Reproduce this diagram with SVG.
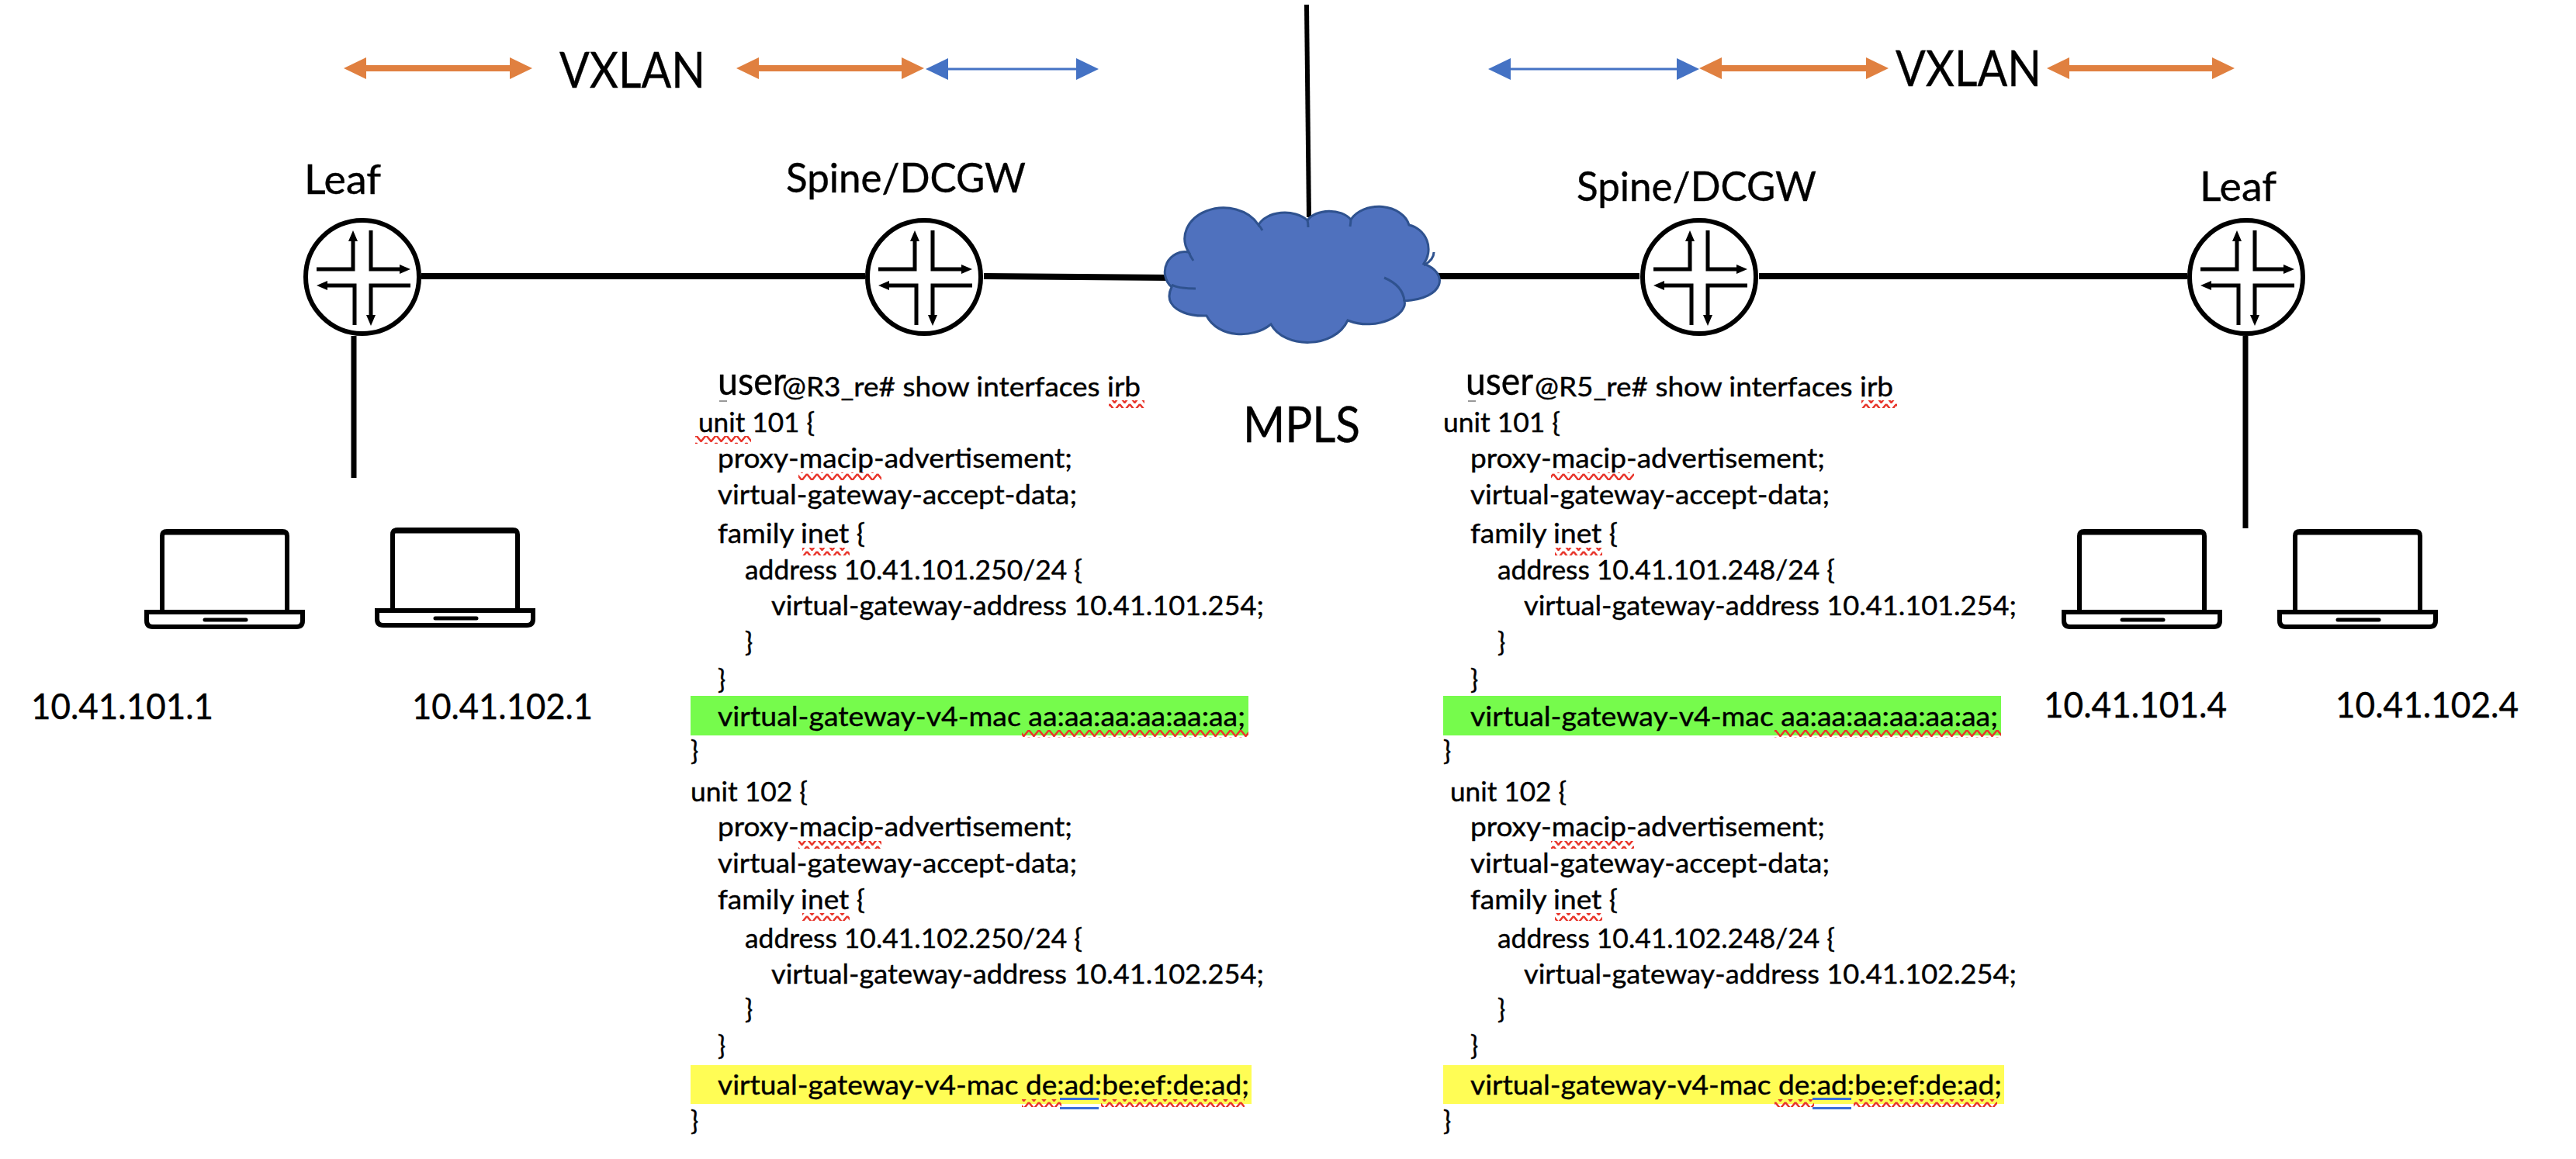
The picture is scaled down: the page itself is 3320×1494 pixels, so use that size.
<svg xmlns="http://www.w3.org/2000/svg" width="3320" height="1494" viewBox="0 0 3320 1494">
<style>
text{font-family:Lato,"Liberation Sans",sans-serif;fill:#000;font-size:34px;stroke:#000;stroke-width:.4}
.lab{font-size:52px}
.big{font-size:64px}
.ip{font-size:46px}
.usr{font-size:50px}
.link{stroke:#000;fill:none;stroke-width:8}
.drop{stroke:#000;fill:none;stroke-width:7}
.orange{stroke:#E08040;stroke-width:8;fill:none}
.blue{stroke:#4472C4;stroke-width:3;fill:none}
.dbl{fill:#3B6FD8}
.mark{fill:#999}
</style>
<defs>
<marker id="hO" markerUnits="userSpaceOnUse" markerWidth="29" markerHeight="28" refX="0" refY="14" orient="auto-start-reverse"><path d="M0,0L29,14L0,28Z" fill="#E08040"/></marker>
<marker id="hB" markerUnits="userSpaceOnUse" markerWidth="29" markerHeight="28" refX="0" refY="14" orient="auto-start-reverse"><path d="M0,0L29,14L0,28Z" fill="#4472C4"/></marker>
<pattern id="sq" patternUnits="userSpaceOnUse" width="13" height="10"><path d="M0,1L6.5,9L13,1" fill="none" stroke="#E8352B" stroke-width="2.5"/></pattern>
<g id="router">
<circle r="73" fill="#fff" stroke="#000" stroke-width="6"/>
<path d="M-59,-10H-12V-48M11,-60V-10H50M-48,11H-10V62M62,11H11V50" fill="none" stroke="#000" stroke-width="5"/>
<path d="M-12,-60L-18,-46H-6ZM62,-10L48,-16V-4ZM-59,11L-45,5V17ZM11,63L5,49H17Z" fill="#000"/>
</g>
<g id="laptop">
<path d="M3,105V9Q3,3 9,3H158Q164,3 164,9V105" fill="#fff" stroke="#000" stroke-width="6"/>
<path d="M2,5H165" stroke="#000" stroke-width="5" fill="none"/>
<path d="M-17,107H184V118Q184,126 176,126H-9Q-17,126 -17,118Z" fill="#fff" stroke="#000" stroke-width="6"/>
<path d="M58,117H111" stroke="#000" stroke-width="5" stroke-linecap="round" fill="none"/>
</g>
</defs>

<g id="connectors">
<path class="link" d="M543,356H1115"/>
<path class="link" d="M1268,356L1510,358"/>
<path class="link" d="M1850,356H2113"/>
<path class="link" d="M2267,356H2819"/>
<path class="drop" d="M456,433V616"/>
<path class="drop" d="M2894,433V681"/>
<path d="M1684,6L1687,280" stroke="#000" stroke-width="6" fill="none"/>
<path class="orange" d="M472,88H657" marker-start="url(#hO)" marker-end="url(#hO)"/>
<path class="orange" d="M978,88H1162" marker-start="url(#hO)" marker-end="url(#hO)"/>
<path class="blue" d="M1222,89H1387" marker-start="url(#hB)" marker-end="url(#hB)"/>
<path class="blue" d="M1947,89H2161" marker-start="url(#hB)" marker-end="url(#hB)"/>
<path class="orange" d="M2219,88H2405" marker-start="url(#hO)" marker-end="url(#hO)"/>
<path class="orange" d="M2667,88H2851" marker-start="url(#hO)" marker-end="url(#hO)"/>
</g>

<g id="vxlan-left"><text class="big" x="721" y="113" textLength="188" lengthAdjust="spacingAndGlyphs">VXLAN</text></g>
<g id="vxlan-right"><text class="big" x="2443" y="111" textLength="188" lengthAdjust="spacingAndGlyphs">VXLAN</text></g>

<g id="cloud-mpls">
<path d="M1510,370A26,26 0 0 1 1532,325A48,38 0 0 1 1622,290A36,24 0 0 1 1685,284A32,22 0 0 1 1741,283A40,30 0 0 1 1816,290A32,32 0 0 1 1835,340C1868,352 1862,385 1810,388C1815,405 1775,428 1737,413C1720,450 1655,450 1638,418C1615,437 1570,436 1555,407C1525,408 1498,395 1510,370Z" fill="#4F71BE" stroke="#2F528F" stroke-width="3"/>
<path d="M1784,358Q1808,368 1810,388M1848,325Q1848,335 1835,342M1510,367Q1518,372 1541,372M1532,325Q1534,330 1538,336M1622,290Q1625,293 1627,297M1685,284Q1686,288 1686,293M1741,283Q1741,286 1740,292" fill="none" stroke="#2F528F" stroke-width="3"/>
<text class="big" x="1602" y="570" textLength="151" lengthAdjust="spacingAndGlyphs">MPLS</text>
</g>

<g id="leaf-left">
<use href="#router" x="467" y="357"/>
<text class="lab" x="392" y="250" textLength="99" lengthAdjust="spacingAndGlyphs">Leaf</text>
</g>
<g id="spine-left">
<use href="#router" x="1191" y="357"/>
<text class="lab" x="1013" y="248" textLength="309" lengthAdjust="spacingAndGlyphs">Spine/DCGW</text>
</g>
<g id="spine-right">
<use href="#router" x="2190" y="357"/>
<text class="lab" x="2032" y="259" textLength="309" lengthAdjust="spacingAndGlyphs">Spine/DCGW</text>
</g>
<g id="leaf-right">
<use href="#router" x="2895" y="357"/>
<text class="lab" x="2835" y="259" textLength="99" lengthAdjust="spacingAndGlyphs">Leaf</text>
</g>

<g id="host-101-1">
<use href="#laptop" x="206" y="682"/>
<text class="ip" x="40" y="927" textLength="235" lengthAdjust="spacingAndGlyphs">10.41.101.1</text>
</g>
<g id="host-102-1">
<use href="#laptop" x="503" y="680"/>
<text class="ip" x="531" y="927" textLength="233" lengthAdjust="spacingAndGlyphs">10.41.102.1</text>
</g>
<g id="host-101-4">
<use href="#laptop" x="2677" y="682"/>
<text class="ip" x="2634" y="925" textLength="236" lengthAdjust="spacingAndGlyphs">10.41.101.4</text>
</g>
<g id="host-102-4">
<use href="#laptop" x="2955" y="682"/>
<text class="ip" x="3010" y="925" textLength="236" lengthAdjust="spacingAndGlyphs">10.41.102.4</text>
</g>

<g id="config-r3">
<rect x="890" y="897" width="719" height="51" fill="#76FB4C"/>
<rect x="890" y="1373" width="723" height="50" fill="#FFFD55"/>
<text class="usr" x="925" y="509" textLength="88" lengthAdjust="spacingAndGlyphs">user</text>
<text x="1008" y="511" textLength="462" lengthAdjust="spacingAndGlyphs">@R3_re# show interfaces irb</text>
<text x="900" y="557" textLength="150" lengthAdjust="spacingAndGlyphs">unit 101 {</text>
<text x="925" y="603" textLength="457" lengthAdjust="spacingAndGlyphs">proxy-macip-advertisement;</text>
<text x="925" y="650" textLength="463" lengthAdjust="spacingAndGlyphs">virtual-gateway-accept-data;</text>
<text x="925" y="700" textLength="190" lengthAdjust="spacingAndGlyphs">family inet {</text>
<text x="960" y="747" textLength="435" lengthAdjust="spacingAndGlyphs">address 10.41.101.250/24 {</text>
<text x="994" y="793" textLength="635" lengthAdjust="spacingAndGlyphs">virtual-gateway-address 10.41.101.254;</text>
<text x="960" y="840">}</text>
<text x="925" y="888">}</text>
<text x="925" y="936" textLength="680" lengthAdjust="spacingAndGlyphs">virtual-gateway-v4-mac aa:aa:aa:aa:aa:aa;</text>
<text x="890" y="980">}</text>
<text x="890" y="1033" textLength="151" lengthAdjust="spacingAndGlyphs">unit 102 {</text>
<text x="925" y="1078" textLength="457" lengthAdjust="spacingAndGlyphs">proxy-macip-advertisement;</text>
<text x="925" y="1125" textLength="463" lengthAdjust="spacingAndGlyphs">virtual-gateway-accept-data;</text>
<text x="925" y="1172" textLength="190" lengthAdjust="spacingAndGlyphs">family inet {</text>
<text x="960" y="1222" textLength="435" lengthAdjust="spacingAndGlyphs">address 10.41.102.250/24 {</text>
<text x="994" y="1268" textLength="635" lengthAdjust="spacingAndGlyphs">virtual-gateway-address 10.41.102.254;</text>
<text x="960" y="1313">}</text>
<text x="925" y="1360">}</text>
<text x="925" y="1411" textLength="685" lengthAdjust="spacingAndGlyphs">virtual-gateway-v4-mac de:ad:be:ef:de:ad;</text>
<text x="890" y="1457">}</text>
<rect class="mark" x="927" y="516" width="10" height="2"/>
<rect x="1429" y="516" width="46" height="10" fill="url(#sq)"/>
<rect x="896" y="562" width="72" height="10" fill="url(#sq)"/>
<rect x="1029" y="609" width="107" height="10" fill="url(#sq)"/>
<rect x="1034" y="706" width="61" height="10" fill="url(#sq)"/>
<rect x="1317" y="941" width="292" height="10" fill="url(#sq)"/>
<rect x="1029" y="1084" width="107" height="10" fill="url(#sq)"/>
<rect x="1034" y="1177" width="61" height="10" fill="url(#sq)"/>
<rect x="1317" y="1417" width="51" height="10" fill="url(#sq)"/>
<rect x="1419" y="1417" width="185" height="10" fill="url(#sq)"/>
<rect class="dbl" x="1366" y="1415" width="50" height="3"/>
<rect class="dbl" x="1366" y="1427" width="50" height="3"/>
</g>

<g id="config-r5">
<rect x="1860" y="897" width="719" height="51" fill="#76FB4C"/>
<rect x="1860" y="1373" width="723" height="50" fill="#FFFD55"/>
<text class="usr" x="1889" y="509" textLength="87" lengthAdjust="spacingAndGlyphs">user</text>
<text x="1978" y="511" textLength="462" lengthAdjust="spacingAndGlyphs">@R5_re# show interfaces irb</text>
<text x="1860" y="557" textLength="151" lengthAdjust="spacingAndGlyphs">unit 101 {</text>
<text x="1895" y="603" textLength="457" lengthAdjust="spacingAndGlyphs">proxy-macip-advertisement;</text>
<text x="1895" y="650" textLength="463" lengthAdjust="spacingAndGlyphs">virtual-gateway-accept-data;</text>
<text x="1895" y="700" textLength="190" lengthAdjust="spacingAndGlyphs">family inet {</text>
<text x="1930" y="747" textLength="435" lengthAdjust="spacingAndGlyphs">address 10.41.101.248/24 {</text>
<text x="1964" y="793" textLength="635" lengthAdjust="spacingAndGlyphs">virtual-gateway-address 10.41.101.254;</text>
<text x="1930" y="840">}</text>
<text x="1895" y="888">}</text>
<text x="1895" y="936" textLength="680" lengthAdjust="spacingAndGlyphs">virtual-gateway-v4-mac aa:aa:aa:aa:aa:aa;</text>
<text x="1860" y="980">}</text>
<text x="1869" y="1033" textLength="150" lengthAdjust="spacingAndGlyphs">unit 102 {</text>
<text x="1895" y="1078" textLength="457" lengthAdjust="spacingAndGlyphs">proxy-macip-advertisement;</text>
<text x="1895" y="1125" textLength="463" lengthAdjust="spacingAndGlyphs">virtual-gateway-accept-data;</text>
<text x="1895" y="1172" textLength="190" lengthAdjust="spacingAndGlyphs">family inet {</text>
<text x="1930" y="1222" textLength="435" lengthAdjust="spacingAndGlyphs">address 10.41.102.248/24 {</text>
<text x="1964" y="1268" textLength="635" lengthAdjust="spacingAndGlyphs">virtual-gateway-address 10.41.102.254;</text>
<text x="1930" y="1313">}</text>
<text x="1895" y="1360">}</text>
<text x="1895" y="1411" textLength="685" lengthAdjust="spacingAndGlyphs">virtual-gateway-v4-mac de:ad:be:ef:de:ad;</text>
<text x="1860" y="1457">}</text>
<rect class="mark" x="1892" y="516" width="10" height="2"/>
<rect x="2399" y="516" width="46" height="10" fill="url(#sq)"/>
<rect x="1999" y="609" width="107" height="10" fill="url(#sq)"/>
<rect x="2004" y="706" width="61" height="10" fill="url(#sq)"/>
<rect x="2287" y="941" width="292" height="10" fill="url(#sq)"/>
<rect x="1999" y="1084" width="107" height="10" fill="url(#sq)"/>
<rect x="2004" y="1177" width="61" height="10" fill="url(#sq)"/>
<rect x="2287" y="1417" width="51" height="10" fill="url(#sq)"/>
<rect x="2389" y="1417" width="185" height="10" fill="url(#sq)"/>
<rect class="dbl" x="2336" y="1415" width="50" height="3"/>
<rect class="dbl" x="2336" y="1427" width="50" height="3"/>
</g>
</svg>
